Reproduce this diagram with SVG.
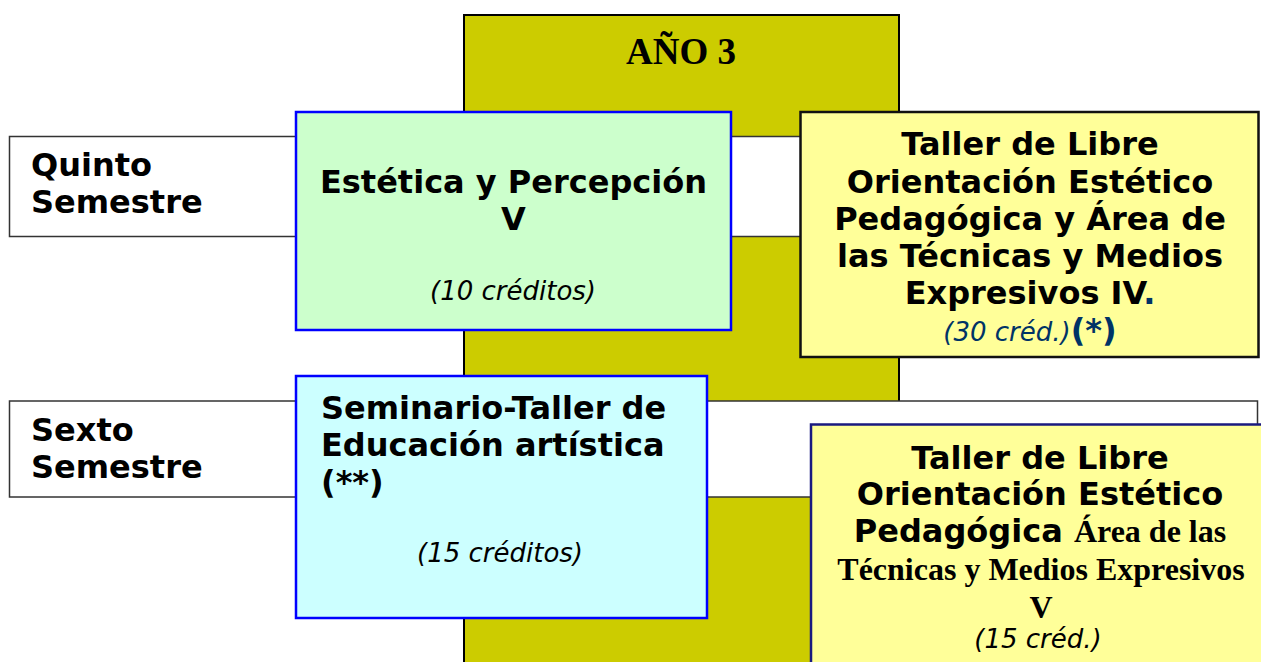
<svg xmlns="http://www.w3.org/2000/svg" width="1261" height="662" viewBox="0 0 1261 662">
<style>
.sb{font-family:"DejaVu Sans",Verdana,sans-serif;font-weight:bold;font-size:32px;fill:#000}
.si{font-family:"DejaVu Sans",Verdana,sans-serif;font-style:italic;font-size:26px;fill:#000}
.tb{font-family:"Liberation Serif","Times New Roman",serif;font-weight:bold;font-size:32px;fill:#000}
.band{fill:#fff;stroke:#333;stroke-width:1.5}
.blue{stroke:#0000ff;stroke-width:2.5}
</style>
<rect width="1261" height="662" fill="#fff"/>
<g id="year">
<rect x="464" y="15" width="435" height="670" fill="#cccc00" stroke="#000" stroke-width="2"/>
<text x="681" y="64" class="tb" font-size="37" text-anchor="middle" style="font-size:37px">AÑO 3</text>
</g>
<g id="connectors"></g>
<g id="quinto">
<rect class="band" x="9.5" y="136.5" width="1248" height="100"/>
<text class="sb"><tspan x="31" y="176">Quinto</tspan><tspan x="31" y="213">Semestre</tspan></text>
</g>
<g id="sexto">
<rect class="band" x="9.5" y="401" width="1248" height="96"/>
<text class="sb"><tspan x="31" y="441">Sexto</tspan><tspan x="31" y="478">Semestre</tspan></text>
</g>
<g id="estetica">
<rect class="blue" x="296" y="112" width="435" height="218" fill="#ccffcc"/>
<text class="sb" text-anchor="middle"><tspan x="513.5" y="193">Estética y Percepción</tspan><tspan x="513.5" y="230">V</tspan></text>
<text class="si" x="513" y="300" text-anchor="middle">(10 créditos)</text>
</g>
<g id="seminario">
<rect class="blue" x="296" y="376" width="411" height="242" fill="#ccffff"/>
<text class="sb"><tspan x="321" y="419">Seminario-Taller de</tspan><tspan x="321" y="456">Educación artística</tspan><tspan x="321" y="493">(**)</tspan></text>
<text class="si" x="500" y="562" text-anchor="middle">(15 créditos)</text>
</g>
<g id="taller4">
<rect x="800.5" y="112" width="458" height="245" fill="#ffff99" stroke="#111" stroke-width="2.5"/>
<text class="sb" text-anchor="middle"><tspan x="1030" y="155">Taller de Libre</tspan><tspan x="1030" y="193">Orientación Estético</tspan><tspan x="1030" y="230">Pedagógica y Área de</tspan><tspan x="1030" y="267">las Técnicas y Medios</tspan><tspan x="1030" y="304">Expresivos IV<tspan fill="#003366">.</tspan></tspan></text>
<text x="1030" y="341" text-anchor="middle"><tspan class="si" style="fill:#003366">(30 créd.)</tspan><tspan class="sb" style="fill:#003366">(*)</tspan></text>
</g>
<g id="taller5">
<rect x="811" y="424.5" width="470" height="260" fill="#ffff99" stroke="#1a1a80" stroke-width="2.5"/>
<text class="sb" text-anchor="middle"><tspan x="1040" y="469">Taller de Libre</tspan><tspan x="1040" y="505">Orientación Estético</tspan></text>
<text x="1040" y="542" text-anchor="middle"><tspan class="sb">Pedagógica </tspan><tspan class="tb">Área de las</tspan></text>
<text class="tb" text-anchor="middle"><tspan x="1041" y="580">Técnicas y Medios Expresivos</tspan><tspan x="1041" y="618">V</tspan></text>
<text class="si" x="1038" y="648" text-anchor="middle">(15 créd.)</text>
</g>
</svg>
